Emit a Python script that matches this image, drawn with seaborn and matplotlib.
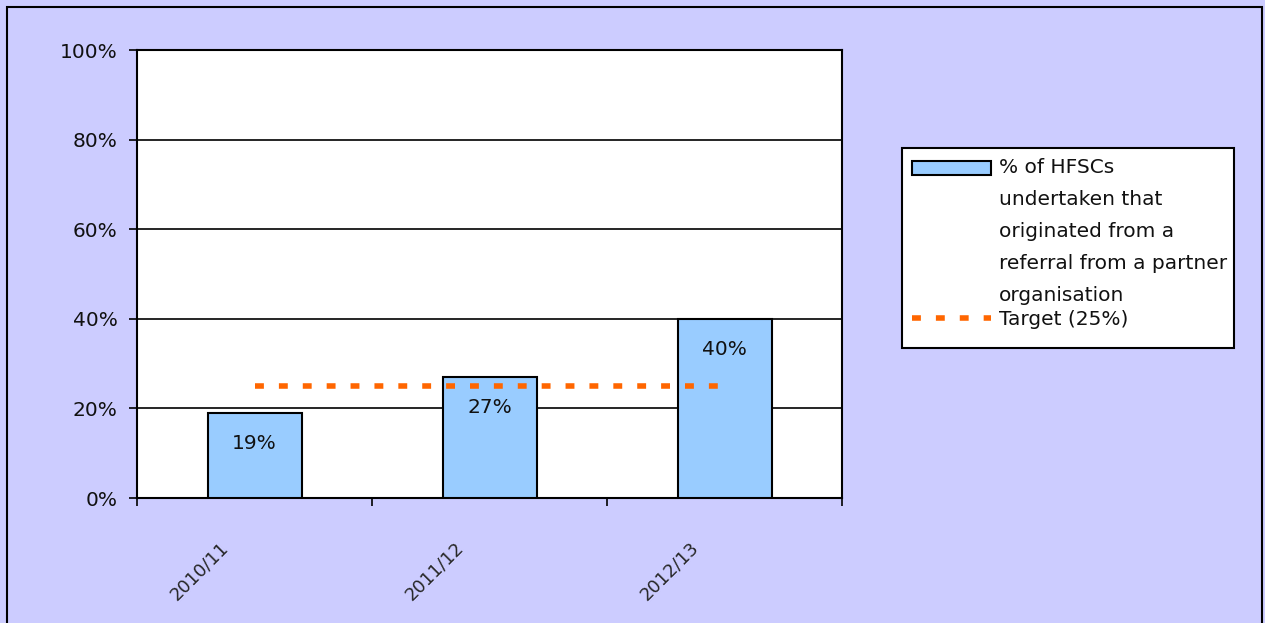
import matplotlib
matplotlib.use("Agg")
import matplotlib.pyplot as plt
import matplotlib.patches as mpatches
import matplotlib.transforms as mtransforms
from matplotlib.legend_handler import HandlerPatch
from matplotlib.lines import Line2D
import seaborn as sns

years = ["2010/11", "2011/12", "2012/13"]
referral_pct = [19, 27, 40]
target_pct = [25, 25, 25]
series_label = "% of HFSCs\nundertaken that\noriginated from a\nreferral from a partner\norganisation"
target_label = "Target (25%)"

BG = "#CCCCFF"
BAR = "#99CCFF"
ORANGE = "#FF6600"
FS = 14.5
LINE_SPACING = 1.86
LINE_STEP = 22.9  # points between legend text lines


class TopPatch(HandlerPatch):
    # put the swatch level with the first line of a multi-line label
    def __init__(self, shift, **kw):
        super().__init__(**kw)
        self.shift = shift

    def create_artists(self, legend, orig_handle, xdescent, ydescent,
                       width, height, fontsize, trans):
        arts = super().create_artists(legend, orig_handle, xdescent, ydescent,
                                      width, height, fontsize, trans)
        for a in arts:
            a.set_y(a.get_y() + self.shift)
        return arts


sns.set_style("white")
plt.rcParams["font.family"] = ["DejaVu Sans"]
plt.rcParams["font.size"] = FS
plt.rcParams["text.color"] = "#111111"

fig = plt.figure(figsize=(12.65, 6.23), dpi=100, facecolor=BG)
ax = fig.add_axes([137 / 1265, 1 - 498 / 623, 705 / 1265, 448 / 623])
ax.set_facecolor("white")

# outer frame of the chart area and the legend box
fig.patches.append(mpatches.Rectangle((7 / 1265, -0.1), 1255 / 1265, 1.1 - 7 / 623,
                                      transform=fig.transFigure, fill=False,
                                      edgecolor="black", linewidth=1.5))
fig.patches.append(mpatches.Rectangle((902 / 1265, 1 - 348 / 623), 332 / 1265,
                                      200 / 623, transform=fig.transFigure,
                                      facecolor="white", edgecolor="black",
                                      linewidth=1.5))

sns.barplot(x=years, y=referral_pct, color=BAR, edgecolor="black",
            linewidth=1.5, width=0.4, saturation=1, ax=ax, zorder=3)
ax.plot(years, target_pct, color=ORANGE, linewidth=4, dashes=(1.6, 2.7), zorder=4)

for cont in ax.containers:
    texts = ax.bar_label(cont, labels=[f"{v}%" for v in referral_pct],
                         padding=-22, fontsize=FS, zorder=5)
    for t in texts:
        t.set_va("center")

ax.set_ylim(0, 100)
ax.set_xlim(-0.5, 2.5)
ax.set_yticks([0, 20, 40, 60, 80, 100])
ax.set_yticklabels([f"{v}%" for v in [0, 20, 40, 60, 80, 100]])
ax.yaxis.grid(True, color="black", linewidth=1.2, zorder=0)
ax.set_axisbelow(True)
for s in ax.spines.values():
    s.set_color("black")
    s.set_linewidth(1.5)

ax.tick_params(axis="y", length=6, width=1.2, direction="out", pad=8, left=True,
               colors="black", labelcolor="#111111")
ax.set_xticks(range(len(years)))
ax.set_xticklabels(years, rotation=45, ha="right", rotation_mode="anchor",
                   fontsize=13)
ax.set_xticks([i + 0.5 for i in range(-1, len(years))], minor=True)
ax.tick_params(axis="x", which="major", length=0, pad=29)
ax.tick_params(axis="x", which="minor", length=6, width=1.2, direction="out",
               bottom=True, color="black")
offset = mtransforms.ScaledTranslation(-0.35, 0, fig.dpi_scale_trans)
for lab in ax.get_xticklabels():
    lab.set_transform(lab.get_transform() + offset)
ax.set_xlabel("")
ax.set_ylabel("")

bar_handle = mpatches.Patch(facecolor=BAR, edgecolor="black", linewidth=1.5)
line_handle = Line2D([], [], color=ORANGE, linewidth=4, dashes=(1.6, 2.7))
leg = fig.legend([bar_handle, line_handle], [series_label, target_label],
                 loc="upper left", bbox_to_anchor=(902 / 1265, 1 - 148 / 623),
                 frameon=False, handlelength=3.9, handleheight=0.7,
                 handletextpad=0.4, borderpad=0.5, labelspacing=0.25,
                 borderaxespad=0,
                 handler_map={bar_handle: TopPatch(shift=2 * LINE_STEP)})
for t in leg.get_texts():
    t.set_linespacing(LINE_SPACING)

fig.savefig("out.png", dpi=100, facecolor=BG)
